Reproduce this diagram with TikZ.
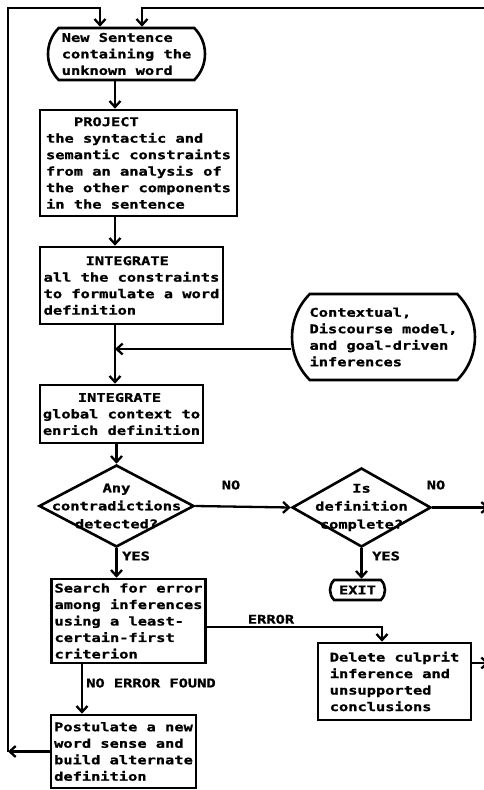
\documentclass[tikz,border=0pt]{standalone}
\usepackage{fontspec}
\newfontfamily\dm[FakeStretch=1.28,FakeBold=1.2]{DejaVu Sans Mono}
\usetikzlibrary{shapes.geometric,shapes.misc,arrows.meta}
\begin{document}
\begin{tikzpicture}[x=1pt,y=-1pt,
  txt/.style={font=\dm\bfseries\fontsize{12}{16.5}\selectfont},
  box/.style={txt,draw,line width=2.6pt,rectangle,inner sep=3pt,align=left},
  term/.style={txt,draw,line width=2.6pt,rounded rectangle,rounded rectangle arc length=90,inner sep=2pt,align=left},
  dia/.style={draw,line width=2.6pt,diamond,inner sep=0pt},
  lab/.style={txt,inner sep=0pt},
  dlab/.style={font=\dm\bfseries\fontsize{12}{18}\selectfont,inner sep=0pt,align=center},
  conn/.style={line width=2.3pt,-{Straight Barb[length=6pt,width=11pt]}}]
\useasboundingbox (0,0) rectangle (484,790);
\clip (0,0) rectangle (484,790);
\fill[white] (0,0) rectangle (484,790);

% nodes
\node[term,minimum width=161,minimum height=52] (T1) at (126.5,54) {New Sentence\\containing the\\unknown word};
\node[box,minimum width=197,minimum height=106] (P) at (138.5,163) {\hspace*{28pt}PROJECT\\the syntactic and\\semantic constraints\\from an analysis of\\the other components\\in the sentence};
\node[box,minimum width=183,minimum height=77] (I1) at (131.5,285.5) {\hspace*{42pt}INTEGRATE\\all the constraints\\to formulate a word\\definition};
\node[term,minimum width=187,minimum height=86] (C) at (383.5,337) {Contextual,\\Discourse model,\\and goal-driven\\inferences};
\node[box,minimum width=163,minimum height=58] (I2) at (121.5,414) {\hspace*{35pt}INTEGRATE\\global context to\\enrich definition};
\node[dia,minimum width=155,minimum height=82,label={[dlab]center:Any\\contradictions\\detected?}] (D1) at (116.5,506) {};
\node[dia,minimum width=139,minimum height=79,label={[dlab]center:Is\\definition\\complete?}] (D2) at (361.5,507.5) {};
\node[term,minimum width=57,minimum height=20,inner sep=1pt] (EX) at (357.5,590) {EXIT};
\node[box,minimum width=153,minimum height=84] (S) at (128.5,621) {Search for error\\among inferences\\using a least-\\certain-first\\criterion};
\node[box,minimum width=153,minimum height=77] (DL) at (394.5,681.5) {Delete culprit\\inference and\\unsupported\\conclusions};
\node[box,minimum width=143,minimum height=73] (PO) at (123.5,751.5) {Postulate a new\\word sense and\\build alternate\\definition};

% labels
\node[lab] (no1) at (231,485) {NO};
\node[lab] (no2) at (436,485) {NO};
\node[lab,anchor=west] (yes1) at (122,556) {YES};
\node[lab,anchor=west] (yes2) at (372,556) {YES};
\node[lab,anchor=south] (err) at (271,624) {ERROR};
\node[lab,anchor=west] (nef) at (86,683) {NO ERROR FOUND};

% coordinates
\coordinate (sp) at (115,0);
\coordinate (J) at (115,349);
\coordinate (RE1) at (489,507.5);
\coordinate (E) at (382,627);
\coordinate (RE2) at (489,663);
\coordinate (nf) at (82,0);
\coordinate (L) at (8,751.5);
\coordinate (TL) at (8,8);
\coordinate (a1) at (100,8);
\coordinate (TR) at (490,8);
\coordinate (a2) at (142,8);

% connectors
\draw[conn] (T1.south -| sp) -- (P.north -| sp);
\draw[conn] (P.south -| sp) -- (I1.north -| sp);
\draw[conn] (I1.south -| sp) -- (I2.north -| sp);
\draw[conn] (C.west |- J) -- (J);
\draw[conn] (I2.south -| D1.north) -- (D1.north);
\draw[conn] (D1.south) -- (S.north -| D1.south);
\draw[conn] (D1.east) -- (D2.west);
\draw[conn] (D2.south) -- (EX.north -| D2.south);
\draw[conn] (D2.east) -- (RE1);
\draw[conn] (S.east |- E) -- (E) -- (DL.north -| E);
\draw[conn] (DL.east |- RE2) -- (RE2);
\draw[conn] (S.south -| nf) -- (PO.north -| nf);
\draw[conn] (PO.west) -- (L);
\draw[conn] (L) -- (TL) -- (a1) -- (T1.north -| a1);
\draw[conn] (TR) -- (a2) -- (T1.north -| a2);
\end{tikzpicture}
\end{document}
